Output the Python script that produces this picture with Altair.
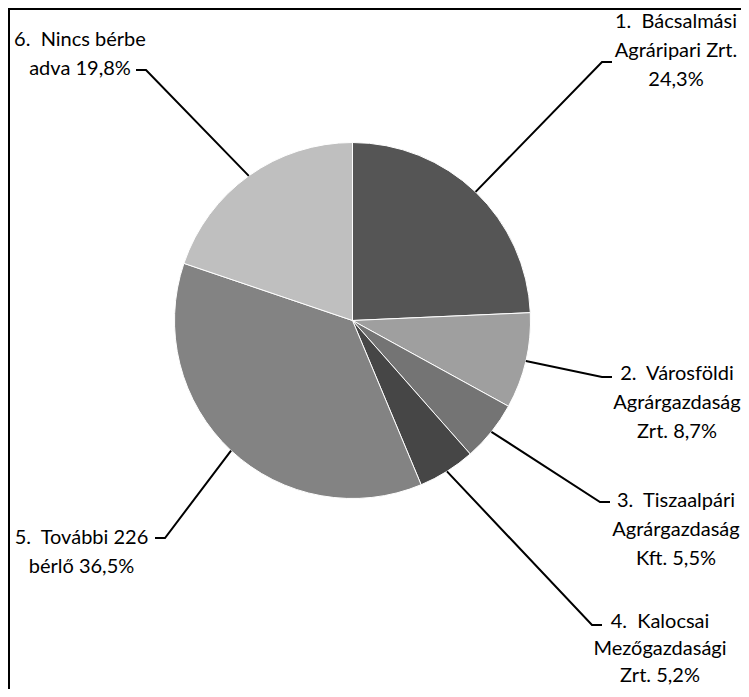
import altair as alt
import numpy as np
import pandas as pd

# ---- data ----
names = [
    ["1.\u00a0\u00a0Bácsalmási", "Agráripari Zrt."],
    ["2.\u00a0\u00a0Városföldi", "Agrárgazdaság", "Zrt."],
    ["3.\u00a0\u00a0Tiszaalpári", "Agrárgazdaság", "Kft."],
    ["4.\u00a0\u00a0Kalocsai", "Mezőgazdasági", "Zrt."],
    ["5.\u00a0\u00a0További 226", "bérlő"],
    ["6.\u00a0\u00a0Nincs bérbe", "adva"],
]
values = [24.3, 8.7, 5.5, 5.2, 36.5, 19.8]
colors = ["#555555", "#9f9f9f", "#747474", "#464646", "#838383", "#bfbfbf"]

# ---- layout (chart pixel coordinates) ----
W, H = 733, 681
CX, CY, R = 344.5, 312.5, 178
label_cx = [668, 669, 668, 652, 73.5, 72]
label_y0 = [14, 366, 493, 614, 530, 32]
label_lh = [29, 29, 29, 27, 29, 29]
elbow = [(594, 54), (594, 369), (592, 494), (584, 617), (157, 530), (138, 62)]
tick_end = [(604, 54), (604, 369), (602, 494), (594, 617), (147, 530), (128, 62)]
FONT = "Lato"
FSIZE = 20

def pct(v):
    return f"{v:.1f}".replace(".", ",") + "%"

# label text lines
text_lines = []
for n, v in zip(names, values):
    lines = list(n)
    if len(lines) == 2 and n[0].startswith("1."):
        lines = lines + [pct(v)]
    else:
        lines[-1] = lines[-1] + " " + pct(v)
    text_lines.append(lines)

pie_df = pd.DataFrame({
    "idx": list(range(len(values))),
    "name": [" ".join(n) for n in names],
    "value": values,
})

# leader line points: slice mid-angle on the pie edge, elbow, horizontal end
total = float(np.sum(values))
cum = np.cumsum([0.0] + values[:-1])
mids = (cum + np.array(values) / 2) / total * 2 * np.pi
rows = []
for i, a in enumerate(mids):
    pts = [(CX + R * np.sin(a), CY - R * np.cos(a)), elbow[i], tick_end[i]]
    for s, (px, py) in enumerate(pts):
        rows.append({"id": i, "seq": s, "px": px, "py": py})
lines_df = pd.DataFrame(rows)

trows = []
for i, lines in enumerate(text_lines):
    for j, t in enumerate(lines):
        trows.append({"id": i, "txt": t, "px": label_cx[i], "py": label_y0[i] + j * label_lh[i]})
text_df = pd.DataFrame(trows)

xs = alt.Scale(domain=[0, W], range=[0, W], nice=False, zero=False)
ys = alt.Scale(domain=[0, H], range=[0, H], nice=False, zero=False)

pie = alt.Chart(pie_df).mark_arc(outerRadius=R, stroke="white", strokeWidth=1).encode(
    theta=alt.Theta("value:Q", stack=True),
    order=alt.Order("idx:O"),
    color=alt.Color("name:N", scale=alt.Scale(domain=pie_df["name"].tolist(), range=colors), legend=None),
    x=alt.value(CX),
    y=alt.value(CY),
)

leaders = alt.Chart(lines_df).mark_line(color="black", strokeWidth=2).encode(
    x=alt.X("px:Q", scale=xs, axis=None),
    y=alt.Y("py:Q", scale=ys, axis=None),
    detail="id:N",
    order="seq:Q",
)

labels = alt.Chart(text_df).mark_text(
    font=FONT, fontSize=FSIZE, color="black", align="center", baseline="middle"
).encode(
    x=alt.X("px:Q", scale=xs, axis=None),
    y=alt.Y("py:Q", scale=ys, axis=None),
    text="txt:N",
)

border_top = alt.Chart(pie_df).mark_rule(color="black", strokeWidth=2).encode(
    x=alt.value(0), x2=alt.value(W), y=alt.value(1)
)
border_left = alt.Chart(pie_df).mark_rule(color="black", strokeWidth=2).encode(
    x=alt.value(1), y=alt.value(0), y2=alt.value(H)
)

chart = alt.layer(pie, leaders, labels, border_top, border_left).properties(
    width=W, height=H, padding=0, autosize=alt.AutoSizeParams(type="none")
).configure_view(stroke=None).configure(background="white")

chart.save("out.html", embed_options={"renderer": "svg", "actions": False})
